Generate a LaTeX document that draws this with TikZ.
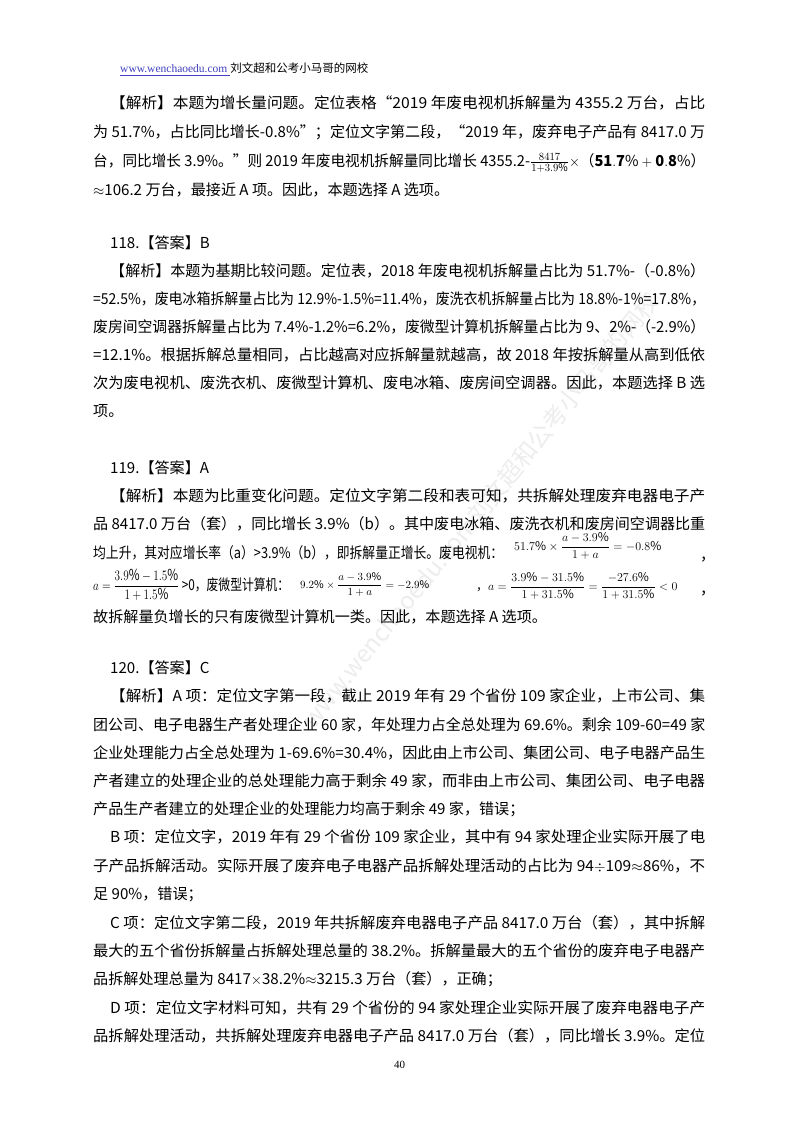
\documentclass[tikz,border=0pt]{standalone}
\usepackage{amsmath}
\usepackage{graphicx}
\usepackage{fontspec}
\setmainfont{Noto Sans CJK SC}
\newfontfamily\serif{Liberation Serif}
\newcommand\fw[2]{\resizebox{#1pt}{\height}{#2}}
\begin{document}
\begin{tikzpicture}[x=1pt,y=-1pt,
  ln/.style={anchor=base west,inner sep=0pt,font=\fontsize{15.1}{16}\selectfont},
  mth/.style={anchor=base west,inner sep=0pt,font=\fontsize{12}{13}\selectfont}]
\useasboundingbox (0,0) rectangle (800,1132);
\fill[white] (0,0) rectangle (800,1132);
% watermark
\node[rotate=51,text=black!7,font=\fontsize{24}{24}\selectfont] (wm) at (480,510) {www.wenchaoedu.com刘文超和公考小马哥的网校};
\node[ln,font=\fontsize{11.5}{12}\selectfont] (hd) at (120,73) {{\serif\color{blue!50!gray}\underline{www.wenchaoedu.com }}刘文超和公考小马哥的网校};
\node[ln] (a1) at (110,108) {\fw{595}{【解析】本题为增长量问题。定位表格“2019 年废电视机拆解量为 4355.2 万台，占比}};
\node[ln] (a2) at (93,137) {\fw{612}{为 51.7\%，占比同比增长-0.8\%”；定位文字第二段，“2019 年，废弃电子产品有 8417.0 万}};
\node[ln] (a3) at (93,166) {\fw{612}{台，同比增长 3.9\%。”则 2019 年废电视机拆解量同比增长 4355.2-$\frac{8417}{1+3.9\%}\times$（$\mathbf{51.7\%+0.8\%}$）}};
\node[ln] (a4) at (93,195) {$\approx$106.2 万台，最接近 A 项。因此，本题选择 A 选项。};
\node[ln] (b0) at (110,248) {118.【答案】B};
\node[ln] (b1) at (110,276) {\fw{595}{【解析】本题为基期比较问题。定位表，2018 年废电视机拆解量占比为 51.7\%-（-0.8\%）}};
\node[ln] (b2) at (93,304) {\fw{612}{=52.5\%，废电冰箱拆解量占比为 12.9\%-1.5\%=11.4\%，废洗衣机拆解量占比为 18.8\%-1\%=17.8\%，}};
\node[ln] (b3) at (93,332) {\fw{612}{废房间空调器拆解量占比为 7.4\%-1.2\%=6.2\%，废微型计算机拆解量占比为 9、2\%-（-2.9\%）}};
\node[ln] (b4) at (93,360) {\fw{612}{=12.1\%。根据拆解总量相同，占比越高对应拆解量就越高，故 2018 年按拆解量从高到低依}};
\node[ln] (b5) at (93,388) {\fw{612}{次为废电视机、废洗衣机、废微型计算机、废电冰箱、废房间空调器。因此，本题选择 B 选}};
\node[ln] (b6) at (93,416) {项。};
\node[ln] (c0) at (110,473) {119.【答案】A};
\node[ln] (c1) at (110,501) {\fw{595}{【解析】本题为比重变化问题。定位文字第二段和表可知，共拆解处理废弃电器电子产}};
\node[ln] (c2) at (93,529) {\fw{612}{品 8417.0 万台（套），同比增长 3.9\%（b）。其中废电冰箱、废洗衣机和废房间空调器比重}};
\node[ln] (c3) at (93,558) {\fw{410}{均上升，其对应增长率（a）>3.9\%（b），即拆解量正增长。废电视机：}};
\node[mth] (c3m) at (514,550) {$51.7\%\times\dfrac{a-3.9\%}{1+a}=-0.8\%$};
\node[ln] (c3c) at (700,560) {，};
\node[ln] (c4) at (93,590) {\fw{196}{$a=\dfrac{3.9\%-1.5\%}{1+1.5\%}$ >0，废微型计算机：}};
\node[mth,font=\fontsize{10.5}{11}\selectfont] (c4m) at (300,588) {$9.2\%\times\dfrac{a-3.9\%}{1+a}=-2.9\%$};
\node[mth] (c4n) at (476,590) {，$a=\dfrac{3.9\%-31.5\%}{1+31.5\%}=\dfrac{-27.6\%}{1+31.5\%}<0$};
\node[ln] (c4c) at (700,594) {，};
\node[ln] (c5) at (93,622) {故拆解量负增长的只有废微型计算机一类。因此，本题选择 A 选项。};
\node[ln] (d0) at (110,673) {120.【答案】C};
\node[ln] (d1) at (110,701) {\fw{595}{【解析】A 项：定位文字第一段，截止 2019 年有 29 个省份 109 家企业，上市公司、集}};
\node[ln] (d2) at (93,730) {\fw{612}{团公司、电子电器生产者处理企业 60 家，年处理力占全总处理为 69.6\%。剩余 109-60=49 家}};
\node[ln] (d3) at (93,758) {\fw{612}{企业处理能力占全总处理为 1-69.6\%=30.4\%，因此由上市公司、集团公司、电子电器产品生}};
\node[ln] (d4) at (93,786) {\fw{612}{产者建立的处理企业的总处理能力高于剩余 49 家，而非由上市公司、集团公司、电子电器}};
\node[ln] (d5) at (93,814) {产品生产者建立的处理企业的处理能力均高于剩余 49 家，错误；};
\node[ln] (d6) at (110,842) {\fw{595}{B 项：定位文字，2019 年有 29 个省份 109 家企业，其中有 94 家处理企业实际开展了电}};
\node[ln] (d7) at (93,871) {\fw{612}{子产品拆解活动。实际开展了废弃电子电器产品拆解处理活动的占比为 94$\div$109$\approx$86\%，不}};
\node[ln] (d8) at (93,899) {足 90\%，错误；};
\node[ln] (d9) at (110,928) {\fw{595}{C 项：定位文字第二段，2019 年共拆解废弃电器电子产品 8417.0 万台（套），其中拆解}};
\node[ln] (d10) at (93,956) {\fw{612}{最大的五个省份拆解量占拆解处理总量的 38.2\%。拆解量最大的五个省份的废弃电子电器产}};
\node[ln] (d11) at (93,984) {品拆解处理总量为 8417$\times$38.2\%$\approx$3215.3 万台（套），正确；};
\node[ln] (d12) at (110,1013) {\fw{595}{D 项：定位文字材料可知，共有 29 个省份的 94 家处理企业实际开展了废弃电器电子产}};
\node[ln] (d13) at (93,1041) {\fw{612}{品拆解处理活动，共拆解处理废弃电器电子产品 8417.0 万台（套），同比增长 3.9\%。定位}};
\node[ln,font=\serif\fontsize{11}{12}\selectfont] (pg) at (394,1068) {40};
\end{tikzpicture}
\end{document}
